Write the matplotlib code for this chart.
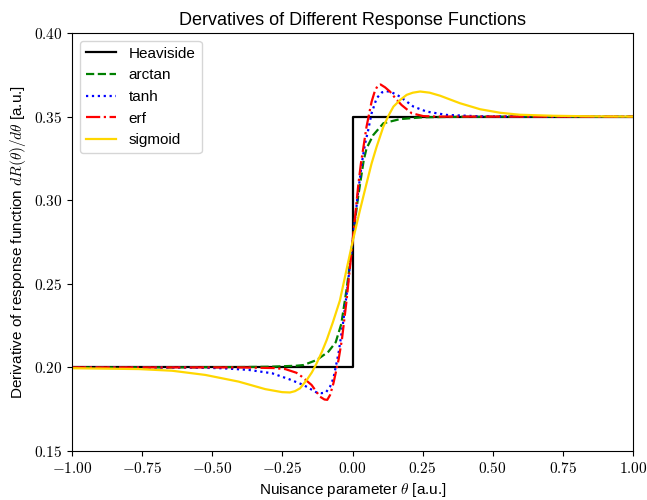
import numpy as np
import matplotlib
matplotlib.use("Agg")
from matplotlib import pyplot as plt
from matplotlib.ticker import FuncFormatter

plt.rcParams['font.family'] = ['Liberation Sans', 'DejaVu Sans']
plt.rcParams['mathtext.fontset'] = 'cm'

# values
heaviside_x = [-1.0, 0.0, 0.0, 1.0]
heaviside_y = [0.2, 0.2, 0.35, 0.35]

arctan_x = [-1.0, -0.6, -0.4, -0.294, -0.2, -0.175, -0.128, -0.086, -0.06, -0.04, -0.02, -0.01,
            0.0, 0.01, 0.02, 0.04, 0.05, 0.074, 0.11, 0.169, 0.25, 0.4, 0.6, 1.0]
arctan_y = [0.2, 0.2, 0.2002, 0.2004, 0.2010, 0.2014, 0.2044, 0.2094, 0.215, 0.226, 0.248, 0.261,
            0.275, 0.289, 0.302, 0.324, 0.331, 0.339, 0.346, 0.3485, 0.3496, 0.3499, 0.35, 0.35]

tanh_x = [-1.0, -0.6, -0.465, -0.37, -0.287, -0.227, -0.175, -0.128, -0.11, -0.095, -0.08, -0.068,
          -0.05, -0.035, -0.02, 0.0, 0.02, 0.035, 0.045, 0.056, 0.068, 0.086, 0.105, 0.122, 0.14,
          0.169, 0.217, 0.264, 0.336, 0.45, 0.6, 1.0]
tanh_y = [0.2, 0.2, 0.1995, 0.1985, 0.1965, 0.1930, 0.1895, 0.1850, 0.1846, 0.1850, 0.1885, 0.1935,
          0.2084, 0.225, 0.245, 0.275, 0.305, 0.324, 0.334, 0.342, 0.352, 0.361, 0.3645, 0.3652, 0.3645,
          0.362, 0.356, 0.353, 0.351, 0.3502, 0.35, 0.35]

erf_x = [-1.0, -0.4, -0.28, -0.24, -0.2, -0.181, -0.146, -0.116, -0.1, -0.09, -0.08, -0.068, -0.05,
         -0.038, -0.021, 0.0, 0.021, 0.03, 0.041, 0.05, 0.068, 0.08, 0.09, 0.1, 0.116, 0.134, 0.155,
         0.175, 0.211, 0.252, 0.3, 1.0]
erf_y = [0.2, 0.2, 0.1996, 0.199, 0.1968, 0.1945, 0.1895, 0.1825, 0.1808, 0.1806, 0.1835, 0.1905, 0.2044,
         0.2164, 0.2403, 0.275, 0.3097, 0.322, 0.334, 0.344, 0.3589, 0.3655, 0.3685, 0.3692, 0.3675, 0.3649, 0.3605,
         0.3569, 0.352, 0.3503, 0.35, 0.35]

sigmoid_x = [-1.0, -0.762, -0.643, -0.525, -0.406, -0.311, -0.251, -0.223, -0.205, -0.187, -0.163, -0.145,
             -0.128, -0.11, -0.092, -0.07, -0.045, -0.02, 0.0, 0.025, 0.05, 0.068, 0.086, 0.11, 0.128,
             0.146, 0.17, 0.193, 0.215, 0.241, 0.275, 0.312, 0.383, 0.455, 0.526, 0.597, 0.715, 0.835, 1.0]
sigmoid_y = [0.1995, 0.199, 0.198, 0.1955, 0.1915, 0.187, 0.1852, 0.1850, 0.1858, 0.1875, 0.1925, 0.197,
             0.2024, 0.209, 0.2164, 0.227, 0.240, 0.2595, 0.275, 0.293, 0.310, 0.322, 0.332, 0.344, 0.3505,
             0.356, 0.360, 0.363, 0.3643, 0.365, 0.3643, 0.3625, 0.358, 0.3544, 0.3523, 0.3511, 0.3505, 0.3502,
             0.350]

fig = plt.figure(figsize=(6.47, 5.0), dpi=100)
ax = fig.add_axes([0.1113, 0.098, 0.8671, 0.836])

ax.plot(heaviside_x, heaviside_y, c='black', ls='-', lw=1.6, label='Heaviside')
ax.plot(arctan_x, arctan_y, c='green', ls='--', lw=1.6, label='arctan')
ax.plot(tanh_x, tanh_y, c='blue', ls=':', lw=1.6, label='tanh')
ax.plot(erf_x, erf_y, c='red', ls='-.', lw=1.6, label='erf')
ax.plot(sigmoid_x, sigmoid_y, c='gold', ls='-', lw=1.6, label='sigmoid')

ax.set_xlim(-1, 1)
ax.set_ylim(0.15, 0.40)
ax.set_xticks(np.linspace(-1, 1, 9))
ax.set_yticks(np.linspace(0.15, 0.40, 6))
ax.xaxis.set_major_formatter(FuncFormatter(lambda v, p: r'$%.2f$' % v))
ax.yaxis.set_major_formatter(FuncFormatter(lambda v, p: r'$%.2f$' % v))
ax.tick_params(labelsize=11)

ax.set_title('Dervatives of Different Response Functions', fontsize=13)
ax.set_xlabel(r'Nuisance parameter $\theta$ [a.u.]', fontsize=11)
ax.set_ylabel(r'Derivative of response function $dR(\theta)/d\theta$ [a.u.]', fontsize=11)
ax.legend(loc='upper left', fontsize=11)

plt.savefig('out.png', dpi=100)
